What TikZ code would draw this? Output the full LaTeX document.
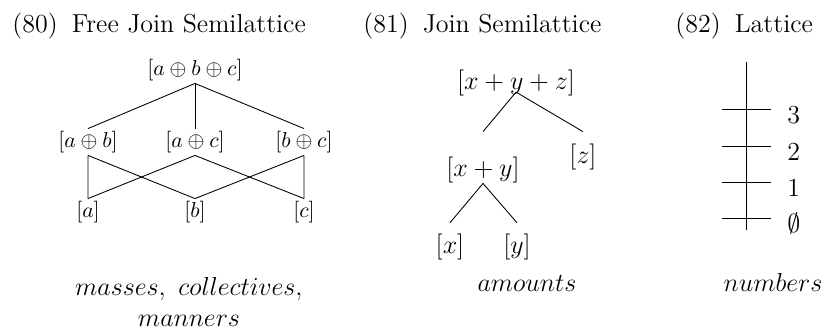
\documentclass[12pt,tikz,border=0pt]{standalone}
\usepackage{amsmath,amssymb}
\usepackage{tikz}

\begin{document}
\begin{tikzpicture}[x=0.4615pt,y=-0.4615pt,
    elem/.style={font=\footnotesize, inner sep=1pt},
    part/.style={inner sep=0pt},
    heading/.style={anchor=base west, inner sep=0pt},
    kind/.style={align=center, inner sep=0pt}]
  \useasboundingbox (0,0) rectangle (825,331);
  % Headings
  \node[heading] (h80) at (12,32) {(80)\hspace{6.5pt}Free Join Semilattice};
  \node[heading] (h81) at (363,32) {(81)\hspace{6.5pt}Join Semilattice};
  \node[heading] (h82) at (675,32) {(82)\hspace{6.5pt}Lattice};
  % Free join semilattice
  \node[elem] (abc) at (195,70) {$[a \oplus b \oplus c]$};
  \node[elem] (ab) at (88,142) {$[a \oplus b]$};
  \node[elem] (ac) at (195,142) {$[a \oplus c]$};
  \node[elem] (bc) at (304,142) {$[b \oplus c]$};
  \node[elem] (a) at (88,212) {$[a]$};
  \node[elem] (b) at (195,212) {$[b]$};
  \node[elem] (c) at (304,212) {$[c]$};
  \foreach \u in {ab,ac,bc}
    \draw (abc.south) -- (\u.north);
  \draw (ab.south) -- (a.north) (ab.south) -- (b.north);
  \draw (ac.south) -- (a.north) (ac.south) -- (c.north);
  \draw (bc.south) -- (b.north) (bc.south) -- (c.north);
  % Join semilattice
  \node[part] (xyz) at (516,83) {$[x+y+z]$};
  \node[part] (xy) at (483,170) {$[x+y]$};
  \node[part] (z) at (583,157) {$[z]$};
  \node[part] (x) at (450,247) {$[x]$};
  \node[part] (y) at (517,247) {$[y]$};
  \draw ([yshift=2pt]xyz.south) -- ([yshift=11.5pt]xy.north);
  \draw ([yshift=2pt]xyz.south) -- ([yshift=5.5pt]z.north);
  \draw (xy.south) -- ([yshift=5pt]x.north);
  \draw (xy.south) -- ([yshift=5pt]y.north);
  % Lattice
  \coordinate (top) at (746,62);
  \coordinate (bot) at (746,230);
  \draw (top) -- (bot);
  \foreach \y/\v [count=\i] in {109/3,146/2,182/1,218/\emptyset} {
    \draw (722,\y) -- (771,\y);
    \node[anchor=base west, inner sep=0pt] (n\i) at (787,\y+14) {$\v$};
  }
  % Kinds
  \node[kind] (mass) at (189,302) {$masses,\ collectives,$\\$manners$};
  \node[kind, anchor=base] (amt) at (527,291) {$amounts$};
  \node[kind, anchor=base] (num) at (773,291) {$numbers$};
\end{tikzpicture}
\end{document}
